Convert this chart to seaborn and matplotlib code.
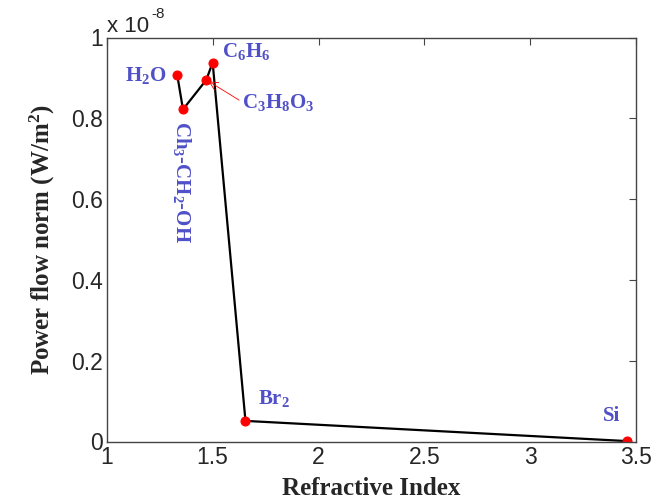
import matplotlib
matplotlib.use('Agg')
import matplotlib.pyplot as plt
import seaborn as sns
import pandas as pd

# refractive index vs power flow norm (units of 1e-8 W/m^2)
materials = ['H2O', 'Ch3-CH2-OH', 'C3H8O3', 'C6H6', 'Br2', 'Si']
labels = [r'H$_2$O', r'Ch$_3$-CH$_2$-OH', r'C$_3$H$_8$O$_3$', r'C$_6$H$_6$', r'Br$_2$', 'Si']
refr_index = [1.333, 1.36, 1.47, 1.50, 1.655, 3.457]
power_norm = [0.907, 0.822, 0.895, 0.938, 0.051, 0.001]
x_ticks = [1, 1.5, 2, 2.5, 3, 3.5]
y_ticks = [0, 0.2, 0.4, 0.6, 0.8, 1]

df = pd.DataFrame({'material': materials, 'n': refr_index, 'P': power_norm})

sns.set_style('white')
plt.rcParams['font.family'] = ['Liberation Sans', 'DejaVu Sans']
plt.rcParams['mathtext.fontset'] = 'custom'
plt.rcParams['mathtext.rm'] = 'Liberation Serif:bold'
plt.rcParams['mathtext.bf'] = 'Liberation Serif:bold'
plt.rcParams['mathtext.default'] = 'rm'

fig = plt.figure(figsize=(6.67, 5), dpi=100)
ax = fig.add_axes([0.160, 0.117, 0.794, 0.808])

sns.lineplot(data=df, x='n', y='P', sort=False, color='black', linewidth=1.6,
             marker='o', markersize=6.5, markerfacecolor='red',
             markeredgecolor='red', ax=ax)

ax.set_xlim(1, 3.5)
ax.set_ylim(0, 1)
ax.set_xticks(x_ticks)
ax.set_yticks(y_ticks)
ax.set_xticklabels(['%g' % v for v in x_ticks])
ax.set_yticklabels(['%g' % v for v in y_ticks])
ax.tick_params(direction='in', length=5, labelsize=16.5, top=True, right=True,
               color='#444444', pad=3)
for s in ax.spines.values():
    s.set_color('#444444')
    s.set_linewidth(1.0)

serif = dict(family='Liberation Serif', fontweight='bold')
ax.set_xlabel('Refractive Index', fontsize=18, labelpad=6, **serif)
ax.set_ylabel(r'Power flow norm (W/m$^2$)', fontsize=18, labelpad=10, **serif)

# multiplier shown above the y axis, MATLAB style
ax.annotate('x 10', (0, 1), xycoords='axes fraction', xytext=(0, 0),
            textcoords='offset points', fontsize=16, ha='left', va='bottom')
ax.annotate('-8', (0, 1), xycoords='axes fraction', xytext=(32, 12),
            textcoords='offset points', fontsize=11, ha='left', va='bottom')

blue = '#5050C8'
tkw = dict(color=blue, fontsize=15, **serif)
ax.annotate(labels[0], (refr_index[0], power_norm[0]), xytext=(-8, 0),
            textcoords='offset points', ha='right', va='center', **tkw)
ax.annotate(labels[1], (refr_index[1], power_norm[1]), xytext=(-1, -8),
            textcoords='offset points', ha='center', va='top',
            rotation=-90, **tkw)
ax.annotate(labels[2], (refr_index[2], power_norm[2]), xytext=(26, -16),
            textcoords='offset points', ha='left', va='center', **tkw,
            arrowprops=dict(arrowstyle='->', color='red', lw=0.6,
                            shrinkA=0, shrinkB=2, relpos=(0, 0.5)))
ax.annotate(labels[3], (refr_index[3], power_norm[3]), xytext=(7, 8),
            textcoords='offset points', ha='left', va='center', **tkw)
ax.annotate(labels[4], (refr_index[4], power_norm[4]), xytext=(9, 16),
            textcoords='offset points', ha='left', va='center', **tkw)
ax.annotate(labels[5], (refr_index[5], power_norm[5]), xytext=(-11, 18),
            textcoords='offset points', ha='center', va='center', **tkw)

fig.savefig('out.png', dpi=100)
